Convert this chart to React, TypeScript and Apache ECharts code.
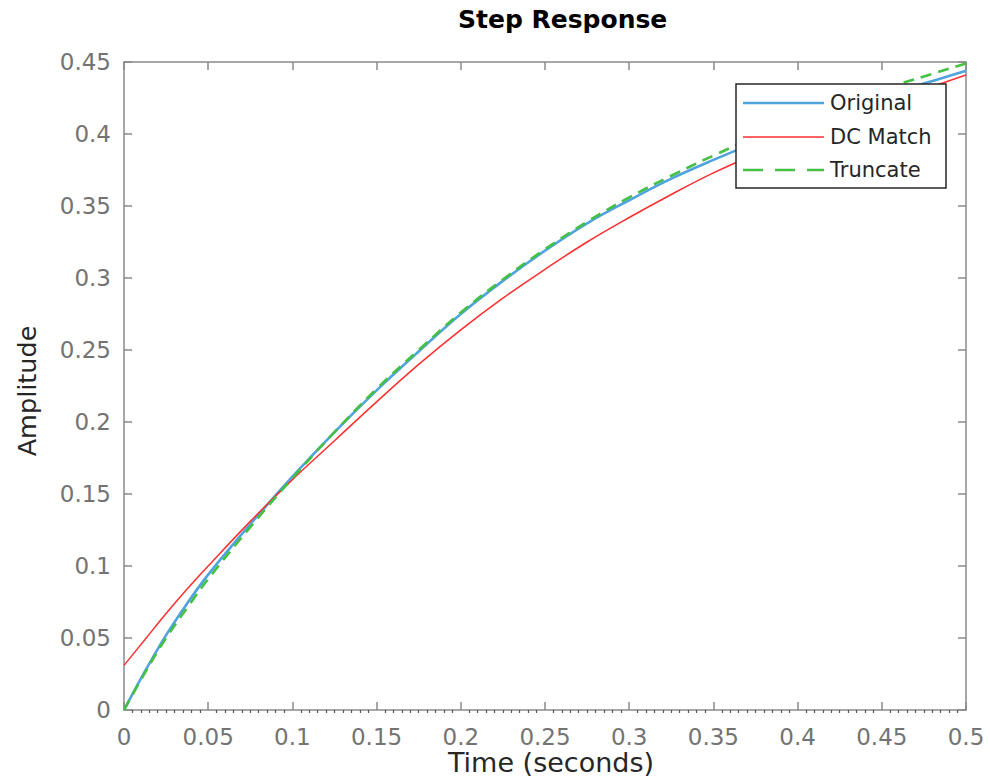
import React, { useEffect, useRef } from "react";
import * as echarts from "echarts";

const timeValues = [0, 0.0125, 0.025, 0.0375, 0.05, 0.075, 0.1, 0.125, 0.15, 0.175, 0.2, 0.225, 0.25, 0.275, 0.3, 0.325, 0.35, 0.375, 0.4, 0.425, 0.45, 0.475, 0.5];
const originalValues = [0, 0.027, 0.052, 0.074, 0.094, 0.129, 0.162, 0.193, 0.222, 0.249, 0.275, 0.298, 0.319, 0.338, 0.354, 0.369, 0.382, 0.394, 0.405, 0.416, 0.426, 0.435, 0.444];
const dcMatchValues = [0.031, 0.049, 0.067, 0.084, 0.1, 0.131, 0.16, 0.187, 0.214, 0.24, 0.264, 0.286, 0.306, 0.325, 0.342, 0.358, 0.373, 0.386, 0.398, 0.41, 0.421, 0.431, 0.441];
const truncateValues = [0, 0.026, 0.05, 0.071, 0.091, 0.127, 0.161, 0.193, 0.223, 0.25, 0.276, 0.299, 0.32, 0.339, 0.356, 0.371, 0.385, 0.398, 0.41, 0.421, 0.431, 0.44, 0.449];
const seriesNames = ["Original", "DC Match", "Truncate"];
const seriesColors = ["#4fa3df", "#ff2e2e", "#44c044"];

const FONT = "DejaVu Sans";
const AXIS_COLOR = "#8a8a8a";
const LABEL_COLOR = "#737373";
const DARK = "#262626";

const fmt = (v: number) => String(+Number(v).toFixed(3));

const mkLine = () => ({ show: true, onZero: false, lineStyle: { color: AXIS_COLOR, width: 1.5 } });
const mkTick = () => ({ show: true, inside: true, length: 8, lineStyle: { color: AXIS_COLOR, width: 1.5 } });

export default function App() {
  const ref = useRef<HTMLDivElement>(null);
  useEffect(() => {
    if (!ref.current) return;
    const chart = echarts.init(ref.current, undefined, { renderer: "svg" });
    const pairs = (ys: number[]) => timeValues.map((t, i) => [t, ys[i]]);
    const gridRect = { left: 124, top: 62, width: 842, height: 648, containLabel: false, outerBoundsMode: "none" };
    const legendX = 736;
    const legendY = 84;
    const rowY = [19, 53, 86];
    const lineWidths = [2.6, 1.5, 2.6];
    const lineDash: any[] = [null, null, [11, 7]];
    const legendDash: any[] = [null, null, [20, 12]];
    const legendChildren: any[] = [
      {
        type: "rect",
        z: 100,
        shape: { x: 0, y: 0, width: 210, height: 104 },
        style: { fill: "#ffffff", stroke: DARK, lineWidth: 1.5 },
      },
    ];
    seriesNames.forEach((name, i) => {
      legendChildren.push({
        type: "line",
        z: 101,
        shape: { x1: 7, y1: rowY[i], x2: 88, y2: rowY[i] },
        style: { stroke: seriesColors[i], lineWidth: lineWidths[i], lineDash: legendDash[i] || undefined },
      });
      legendChildren.push({
        type: "text",
        z: 101,
        x: 94,
        y: rowY[i],
        style: { text: name, fontFamily: FONT, fontSize: 21, fill: DARK, verticalAlign: "middle", align: "left" },
      });
    });
    chart.setOption({
      animation: false,
      backgroundColor: "#ffffff",
      title: {
        text: "Step Response",
        left: 458,
        top: 7,
        padding: 0,
        textStyle: { fontFamily: FONT, fontSize: 25, fontWeight: "bold", color: "#000" },
      },
      grid: [{ ...gridRect }, { ...gridRect }],
      xAxis: [
        {
          gridIndex: 0,
          type: "value",
          position: "bottom",
          min: 0,
          max: 0.5,
          interval: 0.05,
          axisLine: mkLine(),
          axisTick: mkTick(),
          splitLine: { show: false },
          axisLabel: { fontFamily: FONT, fontSize: 23, color: LABEL_COLOR, margin: 15, formatter: fmt },
          name: "Time (seconds)",
          nameLocation: "middle",
          nameGap: 52,
          nameMoveOverlap: false,
          nameTextStyle: { fontFamily: FONT, fontSize: 27, color: DARK, verticalAlign: "middle", padding: [0, 0, 0, 12] },
        },
        {
          gridIndex: 0,
          type: "value",
          position: "top",
          min: 0,
          max: 0.5,
          interval: 0.05,
          axisLine: mkLine(),
          axisTick: mkTick(),
          axisLabel: { show: false },
          splitLine: { show: false },
        },
        {
          gridIndex: 1,
          type: "value",
          position: "bottom",
          min: 0,
          max: 0.5,
          interval: 0.05,
          axisLine: { show: false, onZero: false },
          axisTick: { show: false, inside: false },
          axisLabel: { show: false },
          splitLine: { show: false },
          minorTick: { show: true, splitNumber: 10, length: 3, lineStyle: { color: "#555555", width: 1.2 } },
        },
      ],
      yAxis: [
        {
          gridIndex: 0,
          type: "value",
          position: "left",
          min: 0,
          max: 0.45,
          interval: 0.05,
          axisLine: mkLine(),
          axisTick: mkTick(),
          splitLine: { show: false },
          axisLabel: { fontFamily: FONT, fontSize: 23, color: LABEL_COLOR, margin: 13, formatter: fmt },
          name: "Amplitude",
          nameLocation: "middle",
          nameGap: 97,
          nameRotate: 90,
          nameMoveOverlap: false,
          nameTextStyle: { fontFamily: FONT, fontSize: 25.5, color: DARK, verticalAlign: "middle", padding: [0, 10, 0, 0] },
        },
        {
          gridIndex: 0,
          type: "value",
          position: "right",
          min: 0,
          max: 0.45,
          interval: 0.05,
          axisLine: mkLine(),
          axisTick: mkTick(),
          axisLabel: { show: false },
          splitLine: { show: false },
        },
        {
          gridIndex: 1,
          type: "value",
          min: 0,
          max: 0.45,
          show: false,
          axisLine: { onZero: false },
        },
      ],
      series: seriesNames.map((name, i) => ({
        name,
        type: "line",
        xAxisIndex: 0,
        yAxisIndex: 0,
        data: pairs([originalValues, dcMatchValues, truncateValues][i]),
        smooth: 0.4,
        symbol: "none",
        lineStyle: { color: seriesColors[i], width: lineWidths[i], type: lineDash[i] || "solid" },
        itemStyle: { color: seriesColors[i] },
        z: 2 + i,
      })),
      graphic: [
        {
          type: "group",
          x: legendX,
          y: legendY,
          z: 100,
          children: legendChildren,
        },
      ],
    });
    return () => chart.dispose();
  }, []);
  return (
    <div
      ref={ref}
      style={{ position: "absolute", left: 0, top: 0, width: 990, height: 779, background: "#fff" }}
    />
  );
}
